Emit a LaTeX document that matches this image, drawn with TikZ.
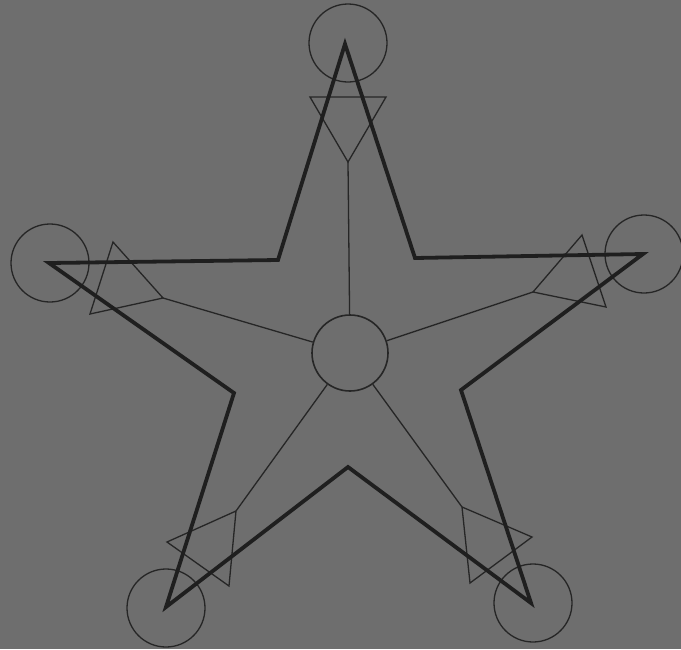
\documentclass[tikz,border=0pt]{standalone}
\begin{document}
\begin{tikzpicture}[x=1pt,y=-1pt,
  ink/.style={draw=black!85},
  tipcircle/.style={circle,ink,line width=1.3pt,minimum size=78pt,inner sep=0pt},
  hubcircle/.style={circle,ink,line width=1.6pt,minimum size=76pt,inner sep=0pt},
  starline/.style={draw=black!88,line width=3.8pt,line join=miter},
  thin/.style={ink,line width=1.3pt,line join=miter}]
\fill[black!57] (0,0) rectangle (681,649);
\useasboundingbox (0,0) rectangle (681,649);
% tip circles
\node[tipcircle] (ct) at (348,43) {};
\node[tipcircle] (cl) at (50,263) {};
\node[tipcircle] (cr) at (644,254) {};
\node[tipcircle] (cbl) at (166,608) {};
\node[tipcircle] (cbr) at (533,603) {};
\node[hubcircle] (hub) at (350,353) {};
% star points
\coordinate (pt) at (345,44);
\coordinate (pr) at (643,254);
\coordinate (pbr) at (531,603);
\coordinate (pbl) at (166,607);
\coordinate (pl) at (49,263);
\coordinate (iur) at (415,258);
\coordinate (ilr) at (461,390);
\coordinate (ib) at (348,467);
\coordinate (ill) at (234,393);
\coordinate (iul) at (278,260);
% triangles
\coordinate (ta) at (310,97); \coordinate (tb) at (386,97); \coordinate (tv) at (348,162);
\coordinate (la) at (113,242); \coordinate (lb) at (90,314); \coordinate (lv) at (163,298);
\coordinate (ra) at (582,235); \coordinate (rb) at (606,307); \coordinate (rv) at (533,292);
\coordinate (bla) at (167,542); \coordinate (blb) at (229,586); \coordinate (blv) at (236,511);
\coordinate (bra) at (532,537); \coordinate (brb) at (470,583); \coordinate (brv) at (462,507);
\draw[thin] (ta) -- (tb) -- (tv) -- cycle;
\draw[thin] (la) -- (lb) -- (lv) -- cycle;
\draw[thin] (ra) -- (rb) -- (rv) -- cycle;
\draw[thin] (bla) -- (blb) -- (blv) -- cycle;
\draw[thin] (bra) -- (brb) -- (brv) -- cycle;
% spokes
\draw[thin] (tv) -- (hub);
\draw[thin] (lv) -- (hub);
\draw[thin] (rv) -- (hub);
\draw[thin] (blv) -- (hub);
\draw[thin] (brv) -- (hub);
% star
\draw[starline] (pt) -- (iur) -- (pr) -- (ilr) -- (pbr) -- (ib) -- (pbl) -- (ill) -- (pl) -- (iul) -- cycle;
\end{tikzpicture}
\end{document}
